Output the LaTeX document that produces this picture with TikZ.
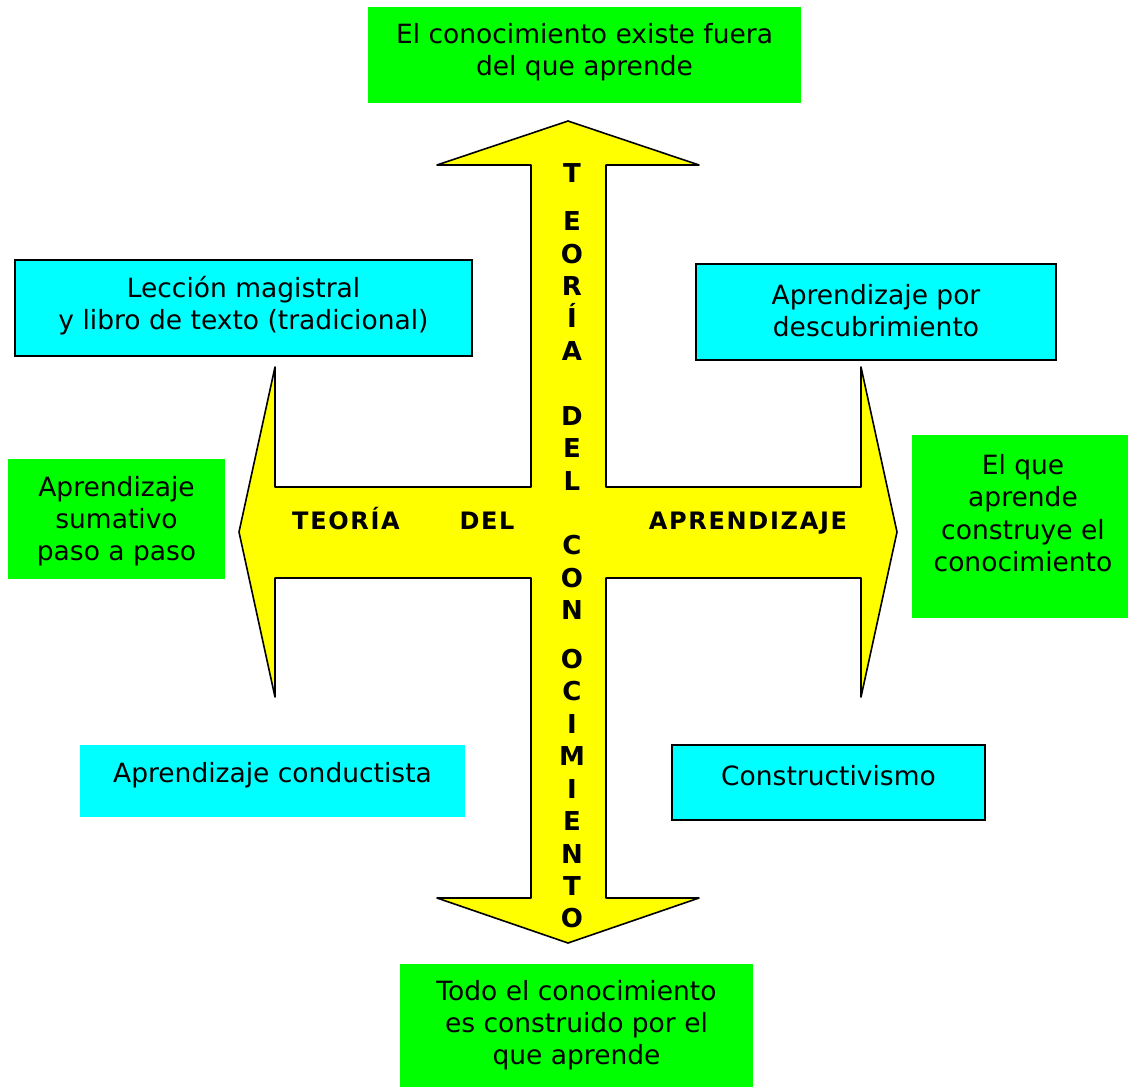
\documentclass[tikz,border=0pt]{standalone}
\usepackage{fontspec}
\setmainfont{DejaVu Sans}
\newfontfamily\crossfont[LetterSpace=7]{DejaVu Sans Bold}
\newfontfamily\stemfont{DejaVu Sans Bold}
\definecolor{boxgreen}{RGB}{0,255,0}
\definecolor{boxcyan}{RGB}{0,255,255}
\definecolor{crossyellow}{RGB}{255,255,0}
\begin{document}
\begin{tikzpicture}[x=1pt,y=-1pt,
  panel/.style={anchor=north west, inner sep=0pt, outer sep=0pt},
  greenbox/.style={panel, fill=boxgreen},
  cyanbox/.style={panel, fill=boxcyan},
  framed/.style={draw=black, line width=1.6pt},
  txt/.style={align=center, inner sep=0pt, font=\fontsize{26.5}{32.3}\selectfont},
  word/.style={anchor=base, inner sep=0pt, font=\fontsize{24}{28}\crossfont},
  vlet/.style={anchor=base, inner sep=0pt, font=\fontsize{26}{30}\stemfont}]

\useasboundingbox (0,0) rectangle (1128,1088);

% the four-way arrow
\draw[fill=crossyellow, line width=1.6pt, line join=round]
  (568,121) -- (699,165) -- (606,165) -- (606,487) -- (861,487) -- (861,367)
  -- (897,532) -- (861,697) -- (861,578) -- (606,578) -- (606,898) -- (699,898)
  -- (568,943) -- (437,898) -- (531,898) -- (531,578) -- (275,578) -- (275,697)
  -- (239,532) -- (275,367) -- (275,487) -- (531,487) -- (531,165) -- (437,165)
  -- cycle;

% horizontal label
\node[word] (teoria) at (346,529) {TEORÍA};
\node[word] (del) at (487,529) {DEL};
\node[word] (aprendizaje) at (748,529) {APRENDIZAJE};

% vertical label
\foreach \ch/\yy [count=\k] in {T/173, E/221, O/254, R/286, Í/318, A/351,
    D/416, E/448, L/481, C/545, O/578, N/610, O/659, C/691, I/724, M/756,
    I/789, E/821, N/854, T/886, O/918}
  \node[vlet] (v\k) at (572,\yy+9.5) {\ch};

% green boxes
\node[greenbox, minimum width=433pt, minimum height=96pt] (gtop) at (368,7) {};
\node[txt] (gtopt) at (584.5,52.5) {El conocimiento existe fuera\\del que aprende};

\node[greenbox, minimum width=353pt, minimum height=123pt] (gbot) at (400,964) {};
\node[txt] (gbott) at (576.5,1025) {Todo el conocimiento\\es construido por el\\que aprende};

\node[greenbox, minimum width=217pt, minimum height=120pt] (gleft) at (8,459) {};
\node[txt] (glefft) at (116.5,521) {Aprendizaje\\sumativo\\paso a paso};

\node[greenbox, minimum width=216pt, minimum height=183pt] (gright) at (912,435) {};
\node[txt] (grightt) at (1023,513) {El que\\aprende\\construye el\\conocimiento};

% cyan boxes
\node[cyanbox, framed, minimum width=457pt, minimum height=96pt] (ctl) at (15,260) {};
\node[txt] (ctlt) at (243.5,306) {Lección magistral\\y libro de texto (tradicional)};

\node[cyanbox, framed, minimum width=360pt, minimum height=96pt] (ctr) at (696,264) {};
\node[txt] (ctrt) at (876,310.5) {Aprendizaje por\\descubrimiento};

\node[cyanbox, minimum width=385pt, minimum height=72pt] (cbl) at (80,745) {};
\node[txt] (cblt) at (272.5,775) {Aprendizaje conductista};

\node[cyanbox, framed, minimum width=313pt, minimum height=75pt] (cbr) at (672,745) {};
\node[txt] (cbrt) at (828.5,776) {Constructivismo};

\end{tikzpicture}
\end{document}
